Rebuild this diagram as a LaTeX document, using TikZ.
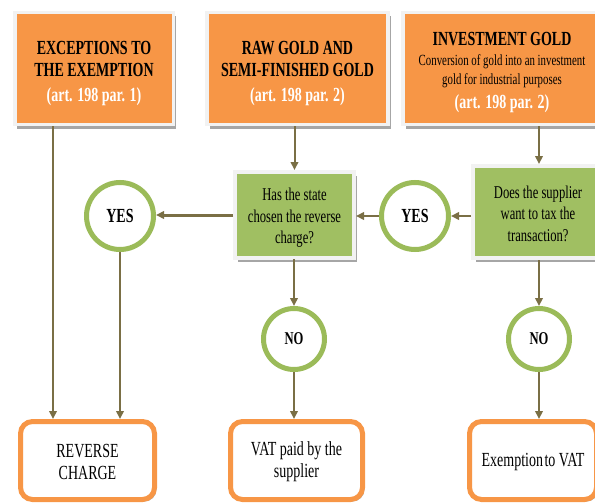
\documentclass[tikz,border=0pt]{standalone}
\usepackage{fontspec}
\setmainfont{Liberation Serif}[FakeStretch=0.7]
\usetikzlibrary{arrows.meta,shadows}
\definecolor{orgc}{HTML}{F79646}
\definecolor{framec}{HTML}{F2F2F2}
\definecolor{grnfill}{HTML}{A0BF62}
\definecolor{ringc}{HTML}{9BBB59}
\definecolor{arrc}{HTML}{7A6F45}
\definecolor{shadc}{HTML}{A6A6A6}
\newcommand{\smtxt}{\normalfont\fontsize{15.5}{19}\selectfont}
\newcommand{\arttxt}{\color{white}\bfseries}
\begin{document}
\begin{tikzpicture}[x=1pt,y=-1pt,
  hdr/.style={fill=orgc, draw=framec, line width=3.5pt, minimum width=#1,
    minimum height=112pt, inner sep=0pt, align=center,
    font=\fontsize{20}{22}\selectfont\bfseries,
    drop shadow={shadow xshift=2.5pt, shadow yshift=-4pt, fill=shadc, opacity=1}},
  qbox/.style={fill=grnfill, draw=framec, line width=4pt, minimum width=#1,
    inner sep=0pt, align=center, font=\fontsize{18}{21.5}\selectfont,
    drop shadow={shadow xshift=2.5pt, shadow yshift=-4pt, fill=shadc, opacity=1}},
  ans/.style={circle, draw=ringc, line width=5pt, fill=white, inner sep=0pt},
  res/.style={rounded corners=12pt, draw=orgc, line width=5pt, fill=white,
    minimum width=#1, minimum height=78pt, inner sep=0pt, align=center,
    font=\fontsize{20}{22}\selectfont,
    drop shadow={shadow xshift=2pt, shadow yshift=-2pt, fill=shadc, opacity=1}},
  arr/.style={draw=arrc, line width=2pt, -{Triangle[length=8pt,width=7.5pt]}}
]
\useasboundingbox (0,0) rectangle (595,503);
\clip (0,0) rectangle (595,503);

% header boxes
\node[hdr=158.5pt] (h1) at (94,68.5) {\rule{0pt}{23pt}EXCEPTIONS TO\\THE EXEMPTION\\[3pt]{\arttxt (art. 198 par. 1)}};
\node[hdr=181pt] (h2) at (297.5,68.5) {\rule{0pt}{23pt}RAW GOLD AND\\SEMI-FINISHED GOLD\\[3pt]{\arttxt (art. 198 par. 2)}};
\node[hdr=198pt] (h3) at (502,68.5) {\rule{0pt}{22pt}INVESTMENT GOLD\\[-2pt]{\smtxt Conversion of gold into an investment}\\[-3pt]{\smtxt gold for industrial purposes}\\[2pt]{\arttxt (art. 198 par. 2)}};

% question boxes
\node[qbox=119pt, minimum height=86pt] (g1) at (294.5,215) {\rule{0pt}{18pt}Has the state\\chosen the reverse\\charge?};
\node[qbox=130pt, minimum height=92pt] (g2) at (538,212) {\rule{0pt}{16pt}Does the supplier\\want to tax the\\transaction?};

% answers
\node[ans, minimum size=67pt, font=\fontsize{20}{22}\selectfont\bfseries] (y1) at (120,216) {YES};
\node[ans, minimum size=67pt, font=\fontsize{20}{22}\selectfont\bfseries] (y2) at (415,216) {YES};
\node[ans, minimum size=61pt, font=\fontsize{18}{20}\selectfont\bfseries] (n1) at (294,339) {NO};
\node[ans, minimum size=61pt, font=\fontsize{18}{20}\selectfont\bfseries] (n2) at (539,339) {NO};

% results
\node[res=134pt] (rc) at (87.5,460.5) {\rule{0pt}{17pt}REVERSE\\CHARGE};
\node[res=132pt] (vp) at (296.5,460.5) {\rule{0pt}{17pt}VAT paid by the\\supplier};
\node[res=127pt] (ex) at (533,460.5) {\rule{0pt}{17pt}Exemption\hspace{1.5pt}to VAT};

% connectors
\coordinate (c1) at (53,0);
\draw[arr] (h1.south -| c1) -- (rc.north -| c1);
\draw[arr] (y1.south) -- (y1.south |- rc.north);
\draw[arr] (h2.south -| g1) -- (g1.north);
\draw[arr, line width=3pt] (g1.west) -- (g1.west -| y1.east);
\draw[arr] (g1.south) -- (g1.south -| n1) -- (n1.north);
\draw[arr] (n1.south) -- (n1.south |- vp.north);
\draw[arr] (h3.south -| n2) -- (g2.north -| n2);
\draw[arr] (g2.west |- y2) -- (y2.east);
\draw[arr] (y2.west) -- (y2.west -| g1.east);
\draw[arr] (g2.south -| n2) -- (n2.north);
\draw[arr] (n2.south) -- (n2.south |- ex.north);
\end{tikzpicture}
\end{document}
